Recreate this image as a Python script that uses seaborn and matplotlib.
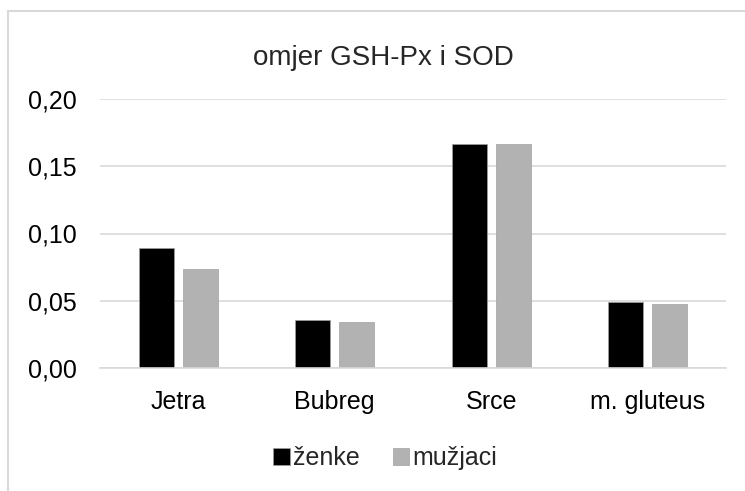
import pandas as pd
import numpy as np
import matplotlib.pyplot as plt
import seaborn as sns
from matplotlib.patches import Rectangle
from matplotlib.ticker import FuncFormatter

sns.set_theme(style="white")
plt.rcParams['font.family'] = ['Liberation Sans', 'DejaVu Sans']

kategorije = ['Jetra', 'Bubreg', 'Srce', 'm. gluteus']
zenke = [0.0893, 0.0356, 0.1669, 0.0487]
muzjaci = [0.0737, 0.0343, 0.1669, 0.0475]
spolovi = ['ženke', 'mužjaci']
boje = ['#000000', '#b2b2b2']

df = pd.DataFrame({
    'tkivo': kategorije * 2,
    'omjer': zenke + muzjaci,
    'spol': [spolovi[0]] * len(kategorije) + [spolovi[1]] * len(kategorije),
})

fig = plt.figure(figsize=(7.45, 4.91), dpi=100)
ax = fig.add_axes([100 / 745, 1 - 368 / 491, 626 / 745, 269 / 491])

sns.barplot(data=df, x='tkivo', y='omjer', hue='spol', palette=boje,
            width=0.562, gap=0.2, ax=ax, edgecolor='#a0a0a0', linewidth=0.5,
            errorbar=None)

ax.set_ylim(0, 0.20)
ax.set_yticks(np.arange(0, 0.201, 0.05))
ax.yaxis.set_major_formatter(FuncFormatter(lambda v, p: f"{v:.2f}".replace('.', ',')))
ax.grid(axis='y', color='#d9d9d9', linewidth=1.2)
ax.set_axisbelow(True)
for s in ['left', 'right', 'top']:
    ax.spines[s].set_visible(False)
ax.spines['bottom'].set_color('#d9d9d9')
ax.spines['bottom'].set_linewidth(1.2)
ax.tick_params(axis='both', length=0, labelsize=18, colors='#000000')
ax.tick_params(axis='y', pad=17)
ax.tick_params(axis='x', pad=16)
ax.set_xlabel('')
ax.set_ylabel('')

fig.text(0.514, 1 - 58 / 491, 'omjer GSH-Px i SOD', ha='center', va='center', fontsize=20)

ax.legend(loc='center', bbox_to_anchor=(0.456, -0.335), ncol=2, frameon=False,
          fontsize=18, handlelength=0.65, handleheight=0.65, handletextpad=0.15,
          columnspacing=1.3)

fig.patches.append(Rectangle((8 / 745, -0.5), 2, 0.5 + 1 - 11 / 491,
                             transform=fig.transFigure, fill=False,
                             edgecolor='#d9d9d9', linewidth=1.5))

plt.savefig('out.png', dpi=100)
